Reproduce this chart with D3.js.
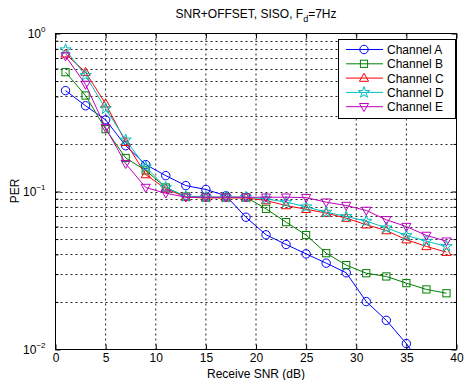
<!DOCTYPE html>
<html>
<head>
<meta charset="utf-8">
<script src="https://cdn.jsdelivr.net/npm/d3@7"></script>
<style>
  body { margin: 0; background: #fff; }
  text { font-family: "Liberation Sans", Arial, sans-serif; fill: #000; }
</style>
</head>
<body>
<svg width="469" height="380"></svg>
<script>
// receive SNR points (dB)
const snr = [1,3,5,7,9,11,13,15,17,19,21,23,25,27,29,31,33,35,37,39];

const chanA = [0.435,0.349,0.284,0.195,0.148,0.126,0.109,0.103,0.094,0.0687,0.0532,0.0462,0.0403,0.0352,0.0306,0.0201,0.0153,0.0109,0.0072];
const chanB = [0.569,0.405,0.248,0.163,0.136,0.106,0.093,0.092,0.092,0.092,0.0777,0.064,0.053,0.0407,0.0342,0.0304,0.029,0.0263,0.024,0.0227];
const chanC = [0.743,0.569,0.359,0.205,0.128,0.104,0.092,0.091,0.091,0.091,0.0877,0.0815,0.0772,0.073,0.0678,0.0616,0.0566,0.0495,0.0449,0.0413];
const chanD = [0.789,0.542,0.334,0.212,0.143,0.106,0.093,0.092,0.092,0.092,0.0898,0.0856,0.08,0.074,0.0695,0.0649,0.0589,0.0527,0.0485,0.0449];
const chanE = [0.72,0.476,0.253,0.15,0.106,0.0975,0.092,0.092,0.092,0.092,0.092,0.092,0.0915,0.0856,0.0815,0.0759,0.0662,0.06,0.0527,0.0485];

const seriesNames = ["Channel A","Channel B","Channel C","Channel D","Channel E"];
const seriesColors = ["#0000ff","#008000","#ff0000","#00bfbf","#bf00bf"];
const seriesMarkers = ["circle","square","triangle","star","tridown"];
const seriesData = [chanA, chanB, chanC, chanD, chanE];

const xTicks = [0,5,10,15,20,25,30,35,40];
const yDecades = [1, 0.1, 0.01];

const svg = d3.select("svg");
const pL = 55.5, pR = 456.5, pT = 33.5, pB = 349.5;

const x = d3.scaleLinear().domain([0,40]).range([pL,pR]);
const y = d3.scaleLog().domain([0.01,1]).range([pB,pT]);

// minor values for log grid
let minors = [];
[0.01,0.1].forEach(dec => {
  for (let k=2;k<=9;k++) minors.push(dec*k);
});

// grid
const grid = svg.append("g");
grid.selectAll("line.gx")
  .data(xTicks.slice(1,-1))
  .enter().append("line")
  .attr("x1", d=>x(d)).attr("x2", d=>x(d))
  .attr("y1", pT).attr("y2", pB)
  .attr("stroke","#222").attr("stroke-width",1)
  .attr("stroke-dasharray","2,3");
grid.selectAll("line.gy")
  .data(minors.concat([0.1]))
  .enter().append("line")
  .attr("x1", pL).attr("x2", pR)
  .attr("y1", d=>Math.round(y(d))+0.5).attr("y2", d=>Math.round(y(d))+0.5)
  .attr("stroke","#222").attr("stroke-width",1)
  .attr("stroke-dasharray","2,3");

// axes
const xAxis = d3.axisBottom(x).tickValues(xTicks).tickSize(-5).tickPadding(4).tickFormat(d3.format("d"));
const xAxisTop = d3.axisTop(x).tickValues(xTicks).tickSize(-5).tickFormat("");
const yAxis = d3.axisLeft(y).tickValues(yDecades).tickSize(-5).tickFormat("");
const yMinorL = d3.axisLeft(y).tickValues(minors).tickSize(-3).tickFormat("");
const yAxisR = d3.axisRight(y).tickValues(yDecades).tickSize(-5).tickFormat("");
const yMinorR = d3.axisRight(y).tickValues(minors).tickSize(-3).tickFormat("");

function styleAxis(g){
  g.select(".domain").remove();
  g.selectAll("line").attr("stroke","#000");
  g.selectAll("text").style("font-size","12px").attr("fill","#000");
}
svg.append("g").attr("transform",`translate(0,${pB})`).call(xAxis).call(styleAxis);
svg.append("g").attr("transform",`translate(0,${pT})`).call(xAxisTop).call(styleAxis);
svg.append("g").attr("transform",`translate(${pL},0)`).call(yAxis).call(styleAxis);
svg.append("g").attr("transform",`translate(${pL},0)`).call(yMinorL).call(styleAxis);
svg.append("g").attr("transform",`translate(${pR},0)`).call(yAxisR).call(styleAxis);
svg.append("g").attr("transform",`translate(${pR},0)`).call(yMinorR).call(styleAxis);

// y tick labels 10^n
const ylab = svg.append("g").selectAll("text")
  .data(yDecades).enter().append("text")
  .attr("x", pL-10).attr("y", d=>y(d)+4)
  .attr("text-anchor","end").style("font-size","12px");
ylab.append("tspan").text("10");
ylab.append("tspan").attr("dy",-6).style("font-size","8px").text(d=>d3.format("d")(Math.round(Math.log10(d))).replace("-","\u2212"));

// frame
svg.append("rect").attr("x",pL).attr("y",pT)
  .attr("width",pR-pL).attr("height",pB-pT)
  .attr("fill","none").attr("stroke","#000").attr("stroke-width",1);

// clip
svg.append("clipPath").attr("id","clip").append("rect")
  .attr("x",pL).attr("y",pT).attr("width",pR-pL).attr("height",pB-pT);

// markers
function drawMarker(g, type, color){
  if (type==="circle") g.append("circle").attr("r",4.2);
  else if (type==="square") g.append("rect").attr("x",-3.6).attr("y",-3.6).attr("width",7.2).attr("height",7.2);
  else if (type==="triangle") g.append("path").attr("d","M0,-4.8L4.6,3.2L-4.6,3.2Z");
  else if (type==="tridown") g.append("path").attr("d","M0,4.8L4.6,-3.2L-4.6,-3.2Z");
  else if (type==="star") g.append("path").attr("d", d3.symbol().type(d3.symbolStar).size(40)());
  g.selectAll("*").attr("fill","none").attr("stroke",color).attr("stroke-width",1);
}

const line = d3.line().x(d=>x(d[0])).y(d=>y(d[1]));
const plot = svg.append("g").attr("clip-path","url(#clip)");
seriesData.forEach((vals,i)=>{
  const pts = vals.map((v,j)=>[snr[j],v]);
  plot.append("path").datum(pts).attr("d",line)
    .attr("fill","none").attr("stroke",seriesColors[i]).attr("stroke-width",1);
  plot.selectAll(null).data(pts).enter().append("g")
    .attr("transform",d=>`translate(${x(d[0])},${y(d[1])})`)
    .each(function(){ drawMarker(d3.select(this), seriesMarkers[i], seriesColors[i]); });
});

// legend
const lg = svg.append("g");
lg.append("rect").attr("x",338.5).attr("y",39.5).attr("width",117).attr("height",79)
  .attr("fill","#fff").attr("stroke","#000").attr("stroke-width",1);
seriesNames.forEach((name,i)=>{
  const ly = 49.5 + i*14.3;
  lg.append("line").attr("x1",346).attr("x2",383).attr("y1",ly).attr("y2",ly)
    .attr("stroke",seriesColors[i]).attr("stroke-width",1);
  const m = lg.append("g").attr("transform",`translate(364,${ly})`);
  drawMarker(m, seriesMarkers[i], seriesColors[i]);
  lg.append("text").attr("x",387).attr("y",ly+4.5).style("font-size","12px").text(name);
});

// title and labels
const title = svg.append("text").attr("x",256).attr("y",18).attr("text-anchor","middle").style("font-size","12px");
title.append("tspan").text("SNR+OFFSET, SISO, F");
title.append("tspan").attr("dy",4).style("font-size","9px").text("d");
title.append("tspan").attr("dy",-4).text("=7Hz");

svg.append("text").attr("x",256).attr("y",378).attr("text-anchor","middle").style("font-size","12px").text("Receive SNR (dB)");
svg.append("text").attr("transform","translate(19,191) rotate(-90)").attr("text-anchor","middle").style("font-size","12px").text("PER");
</script>
</body>
</html>
